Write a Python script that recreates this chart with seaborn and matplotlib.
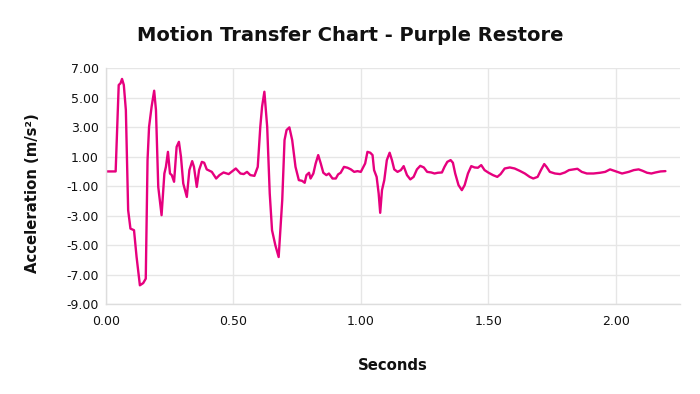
import matplotlib
matplotlib.use("Agg")
import matplotlib.pyplot as plt
import seaborn as sns
import pandas as pd

seconds = [
    0.000, 0.039, 0.047, 0.051, 0.058, 0.064, 0.071, 0.079, 0.088, 0.097,
    0.111, 0.121, 0.134, 0.147, 0.157, 0.164, 0.170, 0.180, 0.190, 0.197,
    0.206, 0.219, 0.230, 0.236, 0.244, 0.252, 0.259, 0.268, 0.278, 0.287,
    0.295, 0.304, 0.318, 0.328, 0.339, 0.346, 0.357, 0.366, 0.377, 0.386,
    0.396, 0.416, 0.433, 0.446, 0.462, 0.482, 0.497, 0.510, 0.528, 0.541,
    0.554, 0.567, 0.583, 0.596, 0.606, 0.613, 0.622, 0.633, 0.643, 0.652,
    0.665, 0.678, 0.692, 0.701, 0.709, 0.720, 0.731, 0.744, 0.757, 0.770,
    0.780, 0.787, 0.797, 0.803, 0.814, 0.823, 0.833, 0.843, 0.853, 0.865,
    0.875, 0.889, 0.902, 0.911, 0.921, 0.934, 0.948, 0.961, 0.974, 0.987,
    1.000, 1.010, 1.017, 1.026, 1.037, 1.046, 1.052, 1.062, 1.070, 1.076,
    1.083, 1.092, 1.102, 1.113, 1.122, 1.131, 1.144, 1.157, 1.168, 1.181,
    1.194, 1.207, 1.220, 1.233, 1.247, 1.260, 1.276, 1.289, 1.302, 1.318,
    1.328, 1.339, 1.352, 1.361, 1.370, 1.383, 1.396, 1.407, 1.420, 1.433,
    1.446, 1.459, 1.472, 1.485, 1.501, 1.518, 1.535, 1.548, 1.564, 1.584,
    1.603, 1.623, 1.643, 1.662, 1.676, 1.693, 1.706, 1.719, 1.728, 1.741,
    1.761, 1.781, 1.800, 1.816, 1.833, 1.849, 1.866, 1.886, 1.912, 1.938,
    1.958, 1.977, 1.997, 2.024, 2.050, 2.070, 2.089, 2.105, 2.122, 2.139,
    2.155, 2.175, 2.194,
]

acceleration = [
    0.00, 0.00, 4.00, 5.87, 5.98, 6.28, 5.87, 4.17, -2.63, -3.88,
    -3.99, -5.80, -7.73, -7.58, -7.28, 0.77, 3.03, 4.40, 5.48, 4.17,
    -1.05, -2.97, -0.14, 0.31, 1.33, -0.14, -0.25, -0.70, 1.67, 2.01,
    1.00, -0.82, -1.73, 0.09, 0.70, 0.31, -1.05, 0.09, 0.65, 0.59,
    0.14, -0.03, -0.48, -0.25, -0.07, -0.18, 0.02, 0.20, -0.14, -0.18,
    -0.03, -0.25, -0.30, 0.31, 3.03, 4.40, 5.41, 3.03, -1.50, -3.99,
    -5.01, -5.81, -1.95, 2.13, 2.81, 2.99, 2.13, 0.31, -0.59, -0.64,
    -0.77, -0.25, -0.09, -0.48, -0.14, 0.54, 1.11, 0.54, -0.09, -0.25,
    -0.14, -0.48, -0.48, -0.20, -0.09, 0.31, 0.25, 0.14, -0.03, 0.02,
    -0.03, 0.31, 0.54, 1.33, 1.27, 1.11, 0.09, -0.37, -1.50, -2.81,
    -1.27, -0.59, 0.77, 1.27, 0.77, 0.14, -0.03, 0.09, 0.36, -0.25,
    -0.54, -0.37, 0.14, 0.38, 0.27, -0.03, -0.07, -0.14, -0.09, -0.07,
    0.31, 0.65, 0.77, 0.59, -0.14, -0.93, -1.27, -0.93, -0.14, 0.36,
    0.27, 0.25, 0.43, 0.09, -0.09, -0.25, -0.37, -0.18, 0.20, 0.27,
    0.20, 0.04, -0.14, -0.37, -0.48, -0.37, 0.09, 0.50, 0.31, -0.03,
    -0.14, -0.18, -0.07, 0.09, 0.14, 0.18, -0.03, -0.14, -0.14, -0.09,
    -0.03, 0.14, 0.02, -0.14, -0.03, 0.09, 0.14, 0.04, -0.09, -0.14,
    -0.07, 0.00, 0.02,
]

x_ticks = [0.0, 0.5, 1.0, 1.5, 2.0]
y_ticks = [7, 5, 3, 1, -1, -3, -5, -7, -9]

title = "Motion Transfer Chart - Purple Restore"
x_label = "Seconds"
y_label = "Acceleration (m/s\u00b2)"

sns.set_theme(style="white")
plt.rcParams["font.family"] = ["DejaVu Sans"]

df = pd.DataFrame({"Seconds": seconds, "Acceleration": acceleration})

fig = plt.figure(figsize=(7.0, 3.94), dpi=100)
ax = fig.add_axes([0.151, 0.2284, 0.820, 0.5982])

sns.lineplot(data=df, x="Seconds", y="Acceleration", ax=ax,
             color="#E6007E", linewidth=1.7, sort=False)

ax.set_xlim(0, 2.25)
ax.set_ylim(-9, 7)
ax.set_xticks(x_ticks)
ax.set_yticks(y_ticks)
ax.set_xticklabels([f"{v:.2f}" for v in x_ticks], fontsize=9, color="#111111")
ax.set_yticklabels([f"{v:.2f}" for v in y_ticks], fontsize=9, color="#111111")
ax.tick_params(axis="x", length=0, pad=8)
ax.tick_params(axis="y", length=0, pad=5)
ax.grid(True, color="#e6e6e6", linewidth=1.0)
ax.set_axisbelow(True)
for side in ["top", "right"]:
    ax.spines[side].set_visible(False)
for side in ["left", "bottom"]:
    ax.spines[side].set_color("#dddddd")
    ax.spines[side].set_linewidth(1.0)
ax.set_xlabel("")
ax.set_ylabel("")

fig.text(0.5, 0.911, title, ha="center", va="center",
         fontsize=14, fontweight="bold", color="#111111")
fig.text(0.561, 0.0736, x_label, ha="center", va="center",
         fontsize=10.7, fontweight="bold", color="#111111")
fig.text(0.046, 0.51, y_label, ha="center", va="center", rotation=90,
         fontsize=10.7, fontweight="bold", color="#111111")

fig.savefig("out.png", dpi=100)
